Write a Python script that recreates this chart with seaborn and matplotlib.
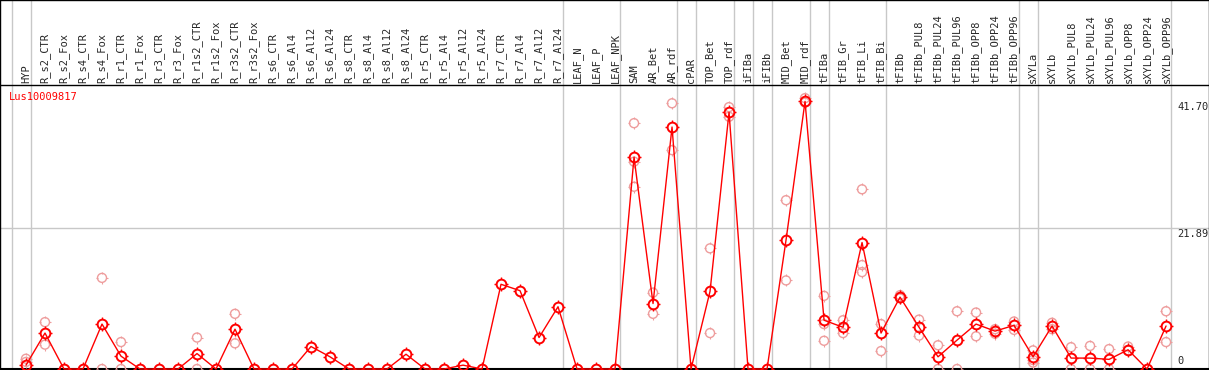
import numpy as np
import pandas as pd
import seaborn as sns
import matplotlib.pyplot as plt
from matplotlib.path import Path

nan = float('nan')

gene = 'Lus10009817'

samples = ['HYP', 'R_s2_CTR', 'R_s2_Fox', 'R_s4_CTR', 'R_s4_Fox', 'R_r1_CTR', 'R_r1_Fox',
           'R_r3_CTR', 'R_r3_Fox', 'R_r1s2_CTR', 'R_r1s2_Fox', 'R_r3s2_CTR', 'R_r3s2_Fox',
           'R_s6_CTR', 'R_s6_Al4', 'R_s6_Al12', 'R_s6_Al24', 'R_s8_CTR', 'R_s8_Al4',
           'R_s8_Al12', 'R_s8_Al24', 'R_r5_CTR', 'R_r5_Al4', 'R_r5_Al12', 'R_r5_Al24',
           'R_r7_CTR', 'R_r7_Al4', 'R_r7_Al12', 'R_r7_Al24', 'LEAF_N', 'LEAF_P', 'LEAF_NPK',
           'SAM', 'AR_Bet', 'AR_rdf', 'cPAR', 'TOP_Bet', 'TOP_rdf', 'iFIBa', 'iFIBb',
           'MID_Bet', 'MID_rdf', 'tFIBa', 'tFIB_Gr', 'tFIB_Li', 'tFIB_Bi', 'tFIBb',
           'tFIBb_PUL8', 'tFIBb_PUL24', 'tFIBb_PUL96', 'tFIBb_OPP8', 'tFIBb_OPP24',
           'tFIBb_OPP96', 'sXYLa', 'sXYLb', 'sXYLb_PUL8', 'sXYLb_PUL24', 'sXYLb_PUL96',
           'sXYLb_OPP8', 'sXYLb_OPP24', 'sXYLb_OPP96']

# mean expression per sample
means = [0.6, 5.6, 0, 0, 7.0, 2.0, 0, 0, 0, 2.4,
         0, 6.2, 0, 0, 0, 3.5, 1.9, 0, 0, 0,
         2.3, 0, 0, 0.6, 0, 13.2, 12.2, 4.9, 9.7, 0,
         0, 0, 33.0, 10.2, 37.7, 0, 12.1, 40.0, 0, 0,
         20.1, 41.7, 7.6, 6.5, 19.7, 5.6, 11.2, 6.5, 1.9, 4.5,
         7.0, 5.9, 6.8, 1.9, 6.7, 1.7, 1.7, 1.5, 3.0, 0, 6.7]

# replicates (nan = not shown)
rep_a = [1.6, 7.3, nan, nan, 14.2, 4.2, nan, nan, nan, 4.9,
         nan, 8.6, nan, nan, nan, nan, nan, nan, nan, nan,
         nan, nan, nan, nan, nan, nan, nan, nan, nan, nan,
         nan, nan, 38.3, 11.9, 41.4, nan, 18.8, 40.8, nan, nan,
         26.3, 42.2, 11.4, 7.6, 28.0, 7.0, 11.5, 7.7, 3.7, 9.0,
         8.8, 6.2, 7.4, 2.9, 7.2, 3.4, 3.6, 3.1, 3.5, nan, 9.0]
rep_b = [1.1, 3.8, nan, nan, 0, 0, nan, nan, nan, 0,
         nan, 4.0, nan, nan, nan, nan, nan, nan, nan, nan,
         nan, nan, nan, nan, nan, nan, nan, nan, nan, nan,
         nan, nan, 28.4, 8.6, 34.1, nan, 5.6, 39.3, nan, nan,
         13.8, 41.5, 4.4, 5.6, 15.1, 2.8, 11.0, 5.2, 0, 0,
         5.1, 5.5, 6.1, 1.0, 6.2, 0, 0, 0, 2.9, nan, 4.2]
rep_c = [nan] * 32 + [32.3] + [nan] * 9 + [7.0, nan, 16.2] + [nan] * 8 + [1.4] + [nan] * 7

# first sample of each group (+ end)
group_starts = [0, 1, 29, 32, 35, 36, 38, 39, 40, 42, 43, 46, 53, 54, 61]

y_labels = ['41.70', '21.89', '0']
y_values = [41.70, 21.89, 0]

df = pd.DataFrame({'pos': np.arange(len(samples)), 'sample': samples, 'mean': means})
reps = pd.DataFrame({'pos': np.arange(len(samples)), 'a': rep_a, 'b': rep_b, 'c': rep_c})
reps = reps.melt(id_vars='pos', value_name='value').dropna()

# small ticks around the circle markers
ticks = Path.make_compound_path(
    Path([(0, 1), (0, 1.4)]), Path([(0, -1), (0, -1.4)]),
    Path([(1, 0), (1.4, 0)]), Path([(-1, 0), (-1.4, 0)]))

sns.set_style('white')
mono = 'DejaVu Sans Mono'
pink = '#ee9c9c'

fig = plt.figure(figsize=(12.09, 3.70), dpi=100)
ax = fig.add_axes([0, 0, 1, 1])

top = 44.25
ax.set_xlim(-1.368, 62.26)
ax.set_ylim(-0.156, 57.49)

for g in group_starts:
    ax.axvline(g - 0.76, color='#c8c8c8', lw=1, zorder=0)
ax.axhline(21.89, color='#c8c8c8', lw=1, zorder=0)
ax.axhline(top, color='black', lw=1, zorder=1)
ax.axhline(0, color='black', lw=1.5, zorder=1)

# replicates
sns.scatterplot(data=reps, x='pos', y='value', marker='o', s=42,
                facecolor='none', edgecolor=pink, linewidth=1, ax=ax, zorder=2)
ax.plot(reps['pos'], reps['value'], ls='', marker=ticks, ms=9, mew=0.8,
        color=pink, zorder=2)

# means
sns.lineplot(data=df, x='pos', y='mean', color='red', lw=1, marker='o',
             markersize=7, markeredgewidth=1.4, markerfacecolor='none',
             markeredgecolor='red', ax=ax, zorder=3)
ax.plot(df['pos'], df['mean'], ls='', marker=ticks, ms=10, mew=1,
        color='red', zorder=3)

for i, name in enumerate(samples):
    ax.text(i, top + 0.3, name, rotation=90, ha='center', va='bottom',
            fontsize=7.5, family=mono)

ax.text(-0.9, 42.4, gene, color='red', ha='left', va='center', fontsize=7.5, family=mono)

xr = (1177 - 26) / 19
for lab, v in zip(y_labels, y_values):
    if v == 0:
        ax.text(xr, v + 0.45, lab, ha='left', va='bottom', fontsize=7.5, family=mono)
    else:
        ax.text(xr, v - 0.1, lab, ha='left', va='top', fontsize=7.5, family=mono)

ax.set_xticks([])
ax.set_yticks([])
ax.set_xlabel('')
ax.set_ylabel('')
for s in ax.spines.values():
    s.set_color('black')
    s.set_linewidth(1)

fig.savefig('out.png', dpi=100)
